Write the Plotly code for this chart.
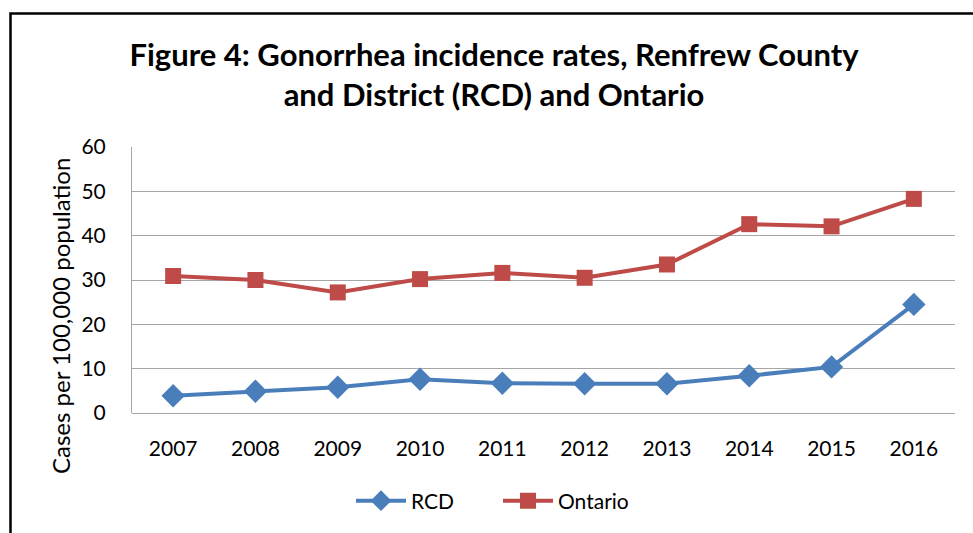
import plotly.graph_objects as go

years = ["2007", "2008", "2009", "2010", "2011", "2012", "2013", "2014", "2015", "2016"]
rcd = [3.9, 4.9, 5.8, 7.6, 6.7, 6.6, 6.6, 8.4, 10.4, 24.5]
ontario = [30.9, 30.0, 27.2, 30.2, 31.6, 30.5, 33.5, 42.6, 42.1, 48.3]

FONT = "Lato"
fig = go.Figure()
fig.add_trace(go.Scatter(x=years, y=rcd, name="RCD", mode="lines+markers",
                         line=dict(color="#4a7ebb", width=4),
                         marker=dict(symbol="diamond", size=18, color="#4a7ebb")))
fig.add_trace(go.Scatter(x=years, y=ontario, name="Ontario", mode="lines+markers",
                         line=dict(color="#be4b48", width=4),
                         marker=dict(symbol="square", size=16, color="#be4b48")))

L, R, T, B = 132, 18, 147, 120
W, H = 973, 533
pw, ph = W - L - R, H - T - B

def px(x):
    return (x - L) / pw

def py(y):
    return (H - B - y) / ph

fig.update_layout(
    width=W, height=H,
    margin=dict(l=L, r=R, t=T, b=B),
    paper_bgcolor="white", plot_bgcolor="white",
    font=dict(family=FONT, color="#000000", size=21),
    title=dict(text="<b>Figure 4: Gonorrhea incidence rates, Renfrew County<br>and District (RCD) and Ontario</b>",
               x=px(494), xref="paper", xanchor="center",
               y=1 - 66 / H, yref="container", yanchor="middle",
               font=dict(family=FONT, size=31, color="#000000")),
    xaxis=dict(type="category", showgrid=False, showline=False,
               ticks="outside", ticklen=17, tickcolor="rgba(0,0,0,0)",
               tickfont=dict(size=21), range=[-0.5, 9.5]),
    yaxis=dict(range=[0, 60], dtick=10, showgrid=True, gridcolor="#a6a6a6", gridwidth=1,
               showline=True, linecolor="#a6a6a6", linewidth=1, zeroline=True,
               zerolinecolor="#a6a6a6", zerolinewidth=1,
               ticks="outside", ticklen=21, tickcolor="rgba(0,0,0,0)",
               tickfont=dict(size=21)),
    annotations=[dict(text="Cases per 100,000 population", xref="paper", yref="paper",
                      x=px(60), y=py(316), xanchor="center", yanchor="middle",
                      textangle=-90, showarrow=False, font=dict(size=24))],
    showlegend=True,
    legend=dict(orientation="h", x=px(498), xanchor="center", y=py(501), yanchor="middle",
                font=dict(size=21), itemwidth=50, tracegroupgap=0, entrywidth=82),
    shapes=[dict(type="rect", xref="paper", yref="paper",
                 x0=px(10.5), x1=px(990), y0=py(560), y1=py(13.5),
                 line=dict(color="black", width=2.5), fillcolor="rgba(0,0,0,0)", layer="below")],
)

fig.write_html("out.html")
